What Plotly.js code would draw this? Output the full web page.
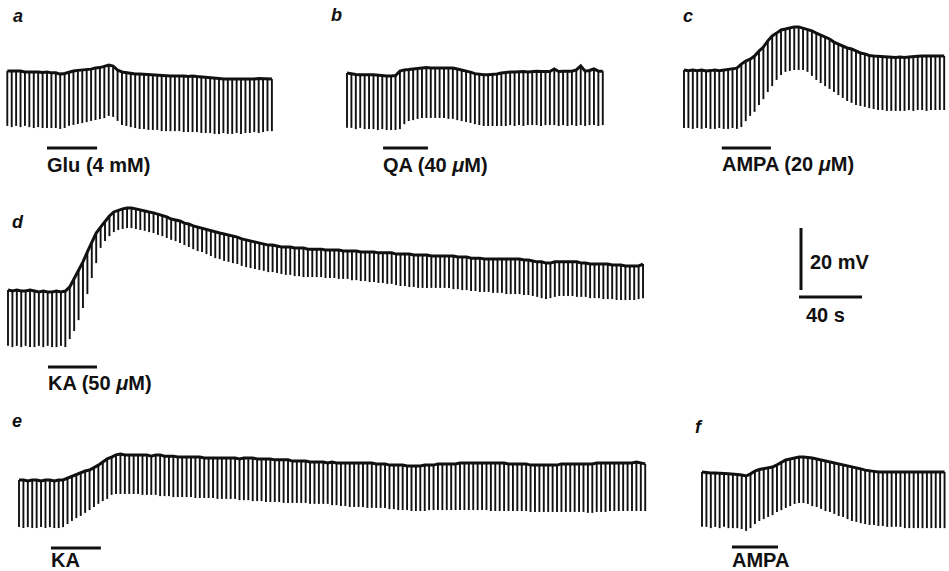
<!DOCTYPE html>
<html><head><meta charset="utf-8">
<script src="https://cdn.plot.ly/plotly-3.0.1.min.js"></script>
<style>html,body{margin:0;padding:0;background:#fff}</style>
</head><body><div id="chart" style="width:949px;height:571px"></div>
<script>
// ---------- data (mV relative to resting level; one value per hyperpolarizing pulse) ----------
const pulseInterval = 2.8; // s between current pulses
const panelNames = ['a','b','c','d','e','f'];
const drugLabels = ['Glu (4 mM)', 'QA (40 <i>μ</i>M)', 'AMPA (20 <i>μ</i>M)', 'KA (50 <i>μ</i>M)', 'KA', 'AMPA'];
const drugOn  = [25.2, 22.9, 24.0, 25.4, 20.3, 19.0];   // s
const drugOff = [57.0, 51.4, 55.2, 56.5, 52.0, 48.3];   // s
const scaleBarMV = 20, scaleBarS = 40;
const scaleLabels = ['20 mV', '40 s'];

const aTop = [0,0,-0.2,0,-0.3,-0.2,-0.3,-0.3,-0.5,-0.3,-0.6,-0.6,-1.0,-0.8,-0.3,0,0.2,0.3,0.5,0.6,1.0,1.1,1.5,1.9,1.6,0.3,-0.3,-0.6,-0.8,-1.0,-1.0,-1.1,-1.3,-1.3,-1.5,-1.6,-1.5,-1.6,-1.6,-1.5,-1.6,-1.8,-1.6,-1.8,-1.9,-1.9,-2.1,-2.3,-2.4,-2.6,-2.6,-2.6,-2.6,-2.6,-2.7,-2.6,-2.6,-2.4,-2.4,-2.6,-2.6];
const aTip = [-17.7,-18.1,-17.7,-18.1,-17.7,-18.1,-18.4,-18.1,-18.4,-18.4,-18.4,-18.4,-18.7,-18.4,-17.7,-17.4,-17.1,-16.8,-16.5,-16.1,-15.8,-15.5,-15.2,-14.5,-14.8,-16.1,-17.4,-17.7,-18.1,-18.4,-18.7,-18.7,-19.0,-19.0,-19.0,-19.4,-19.4,-19.4,-19.4,-19.4,-19.7,-19.7,-19.7,-19.7,-20.0,-20.0,-20.0,-20.3,-20.3,-20.0,-20.3,-20.3,-20.0,-20.3,-20.0,-20.0,-19.7,-20.0,-19.7,-19.4,-19.4];

const bTop = [0,-0.3,-0.5,-0.6,-0.5,-0.6,-0.6,-0.8,-0.8,-1.0,-1.0,-0.8,0.6,1.0,1.1,1.3,1.6,1.6,1.8,1.6,1.6,1.5,1.6,1.5,1.6,1.3,1.0,0.6,0.3,-0.2,-0.5,-0.6,-0.6,-0.5,-0.3,0,0.2,0.3,0.3,0.5,0.5,0.3,0.5,0.6,0.5,0.6,0.5,1.3,0.5,0.6,0.5,0.6,1.0,2.3,0.6,0.8,1.3,0.6,0.6];
const bTip = [-17.7,-17.7,-18.1,-17.7,-18.1,-18.1,-18.1,-18.4,-18.1,-18.4,-18.4,-18.4,-18.1,-16.5,-15.5,-15.2,-14.8,-14.5,-14.5,-14.5,-14.5,-14.5,-14.5,-14.8,-14.8,-15.2,-15.5,-15.8,-16.1,-16.5,-16.8,-17.1,-17.1,-17.1,-17.1,-17.1,-17.1,-16.8,-17.1,-16.8,-17.1,-16.8,-16.8,-16.8,-17.1,-16.8,-16.8,-16.8,-17.1,-16.8,-17.1,-16.8,-17.1,-16.8,-17.1,-16.8,-16.8,-17.1,-16.8];

const cTop = [0,-0.2,0,-0.2,0,-0.3,-0.2,0,-0.2,0,0,0.2,0.6,1.9,2.9,3.5,4.5,6.1,7.4,9.4,11.0,11.9,12.9,13.2,13.5,13.9,13.9,13.5,13.2,12.6,11.9,11.3,10.6,10.0,9.0,8.4,7.7,7.1,6.8,6.1,5.5,5.2,4.7,4.5,4.4,4.2,4.2,4.2,4.0,4.2,4.0,4.2,4.4,4.4,4.5,4.5,4.4,4.5,4.5,4.5];
const cTip = [-18.7,-18.7,-19.0,-18.7,-19.0,-18.7,-19.0,-19.0,-18.7,-19.0,-19.0,-18.7,-19.0,-18.4,-16.5,-14.8,-13.5,-11.3,-9.4,-7.1,-5.2,-3.2,-1.6,-0.6,-0.3,0,0,0,-0.6,-1.9,-3.2,-4.2,-5.2,-6.1,-7.1,-8.1,-9.0,-10.0,-10.6,-11.3,-11.6,-11.9,-12.3,-12.6,-12.9,-12.9,-13.2,-13.2,-13.2,-13.2,-13.2,-12.9,-13.2,-12.9,-12.9,-13.2,-12.9,-12.9,-12.9,-12.9];

const dTop = [0.3,0,0.3,0,0,0.3,0,-0.3,0,-0.3,-0.3,0,-0.3,0,
1.3,3.9,6.8,9.4,12.6,15.8,18.7,20.6,22.6,24.2,25.5,26.1,26.5,26.8,26.8,26.5,26.1,
25.8,25.5,25.2,24.8,24.2,23.9,23.2,22.9,22.6,21.9,21.6,21.0,20.6,20.3,19.7,19.4,19.0,18.7,18.4,18.1,17.7,17.4,16.8,16.5,16.1,15.8,15.5,15.2,14.8,14.8,
14.5,14.2,14.2,14.2,13.9,13.9,13.9,13.5,13.5,13.5,13.5,13.2,13.2,13.2,13.2,12.9,12.9,12.9,12.9,12.6,12.6,12.6,12.6,12.3,12.3,12.3,12.3,11.9,11.9,11.9,
11.9,11.6,11.6,11.6,11.6,11.3,11.3,11.3,11.3,11.3,11.3,11.0,11.0,11.0,10.6,10.6,10.6,10.3,10.3,10.3,10.3,10.3,10.3,10.3,10.3,10.3,10.0,10.0,9.7,9.4,
9.4,9.0,9.0,9.4,9.4,9.4,9.4,9.4,9.4,9.0,9.0,8.7,8.7,8.7,8.7,8.7,8.4,8.4,8.4,8.1,8.1,8.1,8.1,8.7];
const dTip = [-17.7,-18.1,-17.7,-18.1,-17.7,-18.1,-18.1,-17.7,-18.1,-17.7,-18.1,-18.1,-17.7,-18.1,
-15.5,-12.9,-9.4,-5.5,-1.0,4.2,9.0,13.9,16.1,17.7,19.0,19.7,20.0,20.3,20.3,20.0,19.7,
19.4,19.0,18.7,18.1,17.7,17.1,16.5,16.1,15.5,14.8,14.2,13.5,12.9,12.6,11.9,11.3,10.6,10.3,9.7,9.4,9.0,8.7,8.1,7.7,7.4,7.1,6.8,6.5,6.1,6.1,
5.8,5.5,5.2,5.2,4.8,4.8,4.5,4.5,4.5,4.5,4.5,4.2,4.2,4.2,3.9,3.9,3.9,3.5,3.5,3.2,3.2,2.9,2.9,2.6,2.6,2.3,2.3,1.9,1.6,1.6,
1.3,1.3,1.0,1.0,1.0,1.0,1.0,1.0,1.0,1.0,0.6,0.6,0.3,0.3,0,0,-0.3,-0.3,-0.3,-0.6,-0.6,-0.6,-1.0,-1.0,-1.0,-1.0,-1.3,-1.3,-1.6,-1.9,
-2.3,-2.6,-2.3,-1.9,-1.6,-1.6,-1.6,-1.6,-1.9,-1.9,-1.9,-2.3,-2.3,-2.3,-2.6,-2.6,-2.6,-2.9,-2.9,-2.9,-2.9,-2.9,-2.6,-2.3];

const eTop = [0,0,-0.3,0,0,-0.3,0,0,-0.3,0,0,
0.6,1.3,1.9,2.3,2.9,3.2,3.9,4.8,5.8,6.8,7.4,8.1,8.4,
8.1,8.1,8.1,8.1,8.1,8.1,7.7,8.1,8.1,7.7,7.7,7.7,7.4,7.4,7.4,7.4,7.4,7.4,7.1,7.1,7.1,7.1,7.1,7.1,7.1,7.1,6.8,
7.1,7.1,7.1,6.8,6.8,6.8,6.8,6.5,6.5,6.5,6.5,6.1,6.1,6.1,6.1,5.8,5.8,5.8,5.8,5.5,5.8,5.5,5.5,5.5,5.5,5.5,5.5,5.5,5.5,5.5,
5.2,5.2,5.2,4.8,4.8,4.8,4.8,4.5,4.5,4.5,4.5,4.8,4.8,4.8,5.2,5.2,5.2,5.2,5.2,5.5,5.5,5.5,5.5,5.5,5.5,5.5,5.5,5.5,5.5,5.5,
5.2,5.2,5.2,5.2,5.2,4.8,4.8,4.8,4.8,4.8,4.8,4.8,5.2,5.2,5.2,5.2,5.2,5.2,5.2,5.2,5.5,5.5,5.5,5.5,5.5,5.5,5.5,5.5,5.5,5.8,5.5,5.2];
const eTip = [-15.2,-15.5,-15.2,-15.5,-15.5,-15.2,-15.5,-15.2,-15.5,-15.5,-15.2,
-14.2,-13.2,-12.3,-11.6,-10.6,-9.7,-8.7,-7.7,-6.8,-6.1,-4.8,-4.5,-4.5,
-4.5,-4.5,-4.5,-4.5,-4.8,-4.8,-4.8,-4.8,-5.2,-5.2,-5.2,-5.5,-5.5,-5.5,-5.5,-5.5,-5.8,-5.8,-5.8,-5.8,-5.8,-6.1,-6.1,-6.1,-6.1,-6.1,-6.5,
-6.5,-6.5,-6.8,-6.8,-6.8,-7.1,-7.1,-7.1,-7.1,-7.4,-7.4,-7.4,-7.4,-7.4,-7.4,-7.7,-7.7,-7.7,-7.7,-7.7,-8.1,-8.1,-8.4,-8.4,-8.7,-8.7,-8.7,-8.7,-9.0,-9.0,
-9.0,-9.0,-9.0,-9.4,-9.4,-9.7,-9.7,-9.7,-10.0,-10.0,-10.0,-10.0,-9.7,-9.7,-9.7,-9.7,-9.7,-9.7,-9.7,-9.7,-9.7,-9.7,-9.7,-9.7,-9.7,-9.7,-10.0,-10.0,-10.0,-10.0,
-10.0,-10.0,-10.0,-10.0,-10.0,-10.3,-10.3,-10.3,-10.3,-10.3,-10.3,-10.3,-10.3,-10.3,-10.3,-10.3,-10.3,-10.3,-10.6,-10.6,-10.3,-10.3,-10.3,-10.0,-10.0,-10.0,-10.0,-10.0,-10.0,-10.0,-10.0,-10.0];

const fTop = [0,-0.2,-0.3,-0.3,-0.5,-0.5,-0.6,-0.6,-0.8,-1.0,-1.3,-0.6,0.3,0.8,1.0,1.3,1.6,2.3,3.2,3.9,4.2,4.5,4.8,4.8,4.7,4.5,4.2,3.9,3.5,3.2,2.9,2.6,2.3,1.9,1.6,1.3,1.0,0.6,0.3,0.2,0,0,0,0,0,0,0,0,0,0,0,0,0,0,0,0];
const fTip = [-17.7,-17.7,-18.1,-17.7,-18.1,-17.7,-18.1,-18.1,-18.1,-18.4,-19.0,-18.1,-16.8,-15.8,-15.2,-14.5,-13.9,-12.9,-12.3,-11.6,-11.0,-10.3,-10.0,-10.0,-10.3,-11.0,-11.3,-11.9,-12.6,-12.9,-13.5,-14.2,-14.5,-15.2,-15.8,-16.1,-16.5,-16.8,-17.1,-17.1,-17.4,-17.4,-17.7,-17.7,-17.7,-17.7,-18.1,-18.1,-18.1,-18.1,-18.1,-18.1,-18.1,-18.1,-18.1,-18.1];

const tops = [aTop, bTop, cTop, dTop, eTop, fTop];
const tips = [aTip, bTip, cTip, dTip, eTip, fTip];

// ---------- layout geometry (pixels) ----------
const W = 949, H = 571;
const PX_PER_S = 63 / 40, PX_PER_MV = 62 / 20;
const geom = [
  {x0:7.3, y0:71,  L:0,   R:325, T:0,   B:185, lx:12,  ly:16,  bar:148, text:165},
  {x0:347, y0:73,  L:325, R:660, T:0,   B:185, lx:330, ly:15,  bar:148, text:165},
  {x0:684, y0:70,  L:660, R:949, T:0,   B:185, lx:682, ly:16,  bar:148, text:164},
  {x0:8,   y0:291, L:0,   R:700, T:190, B:400, lx:11,  ly:222, bar:367, text:383},
  {x0:19,  y0:480, L:0,   R:680, T:400, B:571, lx:11,  ly:421, bar:548, text:559.5},
  {x0:702, y0:472, L:680, R:949, T:400, B:571, lx:694, ly:427, bar:547, text:559.5}
];
const INK = '#111111';
const FONT = 'Liberation Sans, Arial, Helvetica, sans-serif';

const data = [], shapes = [], annotations = [];
const layout = {
  width: W, height: H, autosize: false,
  margin: {l:0, r:0, t:0, b:0, pad:0},
  paper_bgcolor: '#ffffff', plot_bgcolor: 'rgba(0,0,0,0)',
  showlegend: false, hovermode: false
};
function axisPair(id, g) {
  layout['xaxis' + id] = {domain:[g.L / W, g.R / W], range:[(g.L - g.x0) / PX_PER_S, (g.R - g.x0) / PX_PER_S],
    visible:false, fixedrange:true, anchor:'y' + id};
  layout['yaxis' + id] = {domain:[1 - g.B / H, 1 - g.T / H], range:[(g.y0 - g.B) / PX_PER_MV, (g.y0 - g.T) / PX_PER_MV],
    visible:false, fixedrange:true, anchor:'x' + id};
}

tops.forEach((top, k) => {
  const tip = tips[k];
  const g = geom[k];
  const id = k === 0 ? '' : String(k + 1);
  axisPair(id, g);
  const n = Math.min(top.length, tip.length);
  const t = [], px = [], py = [];
  for (let i = 0; i < n; i++) {
    const ti = i * pulseInterval;
    t.push(ti);
    px.push(ti, ti, null);
    py.push(top[i], tip[i], null);
  }
  data.push({type:'scatter', mode:'lines', x:px, y:py, xaxis:'x' + id, yaxis:'y' + id,
    line:{color:INK, width:1.9}, hoverinfo:'skip'});
  data.push({type:'scatter', mode:'lines', x:t, y:top.slice(0, n), xaxis:'x' + id, yaxis:'y' + id,
    line:{color:INK, width:3.0}, hoverinfo:'skip'});
  const barY = (g.y0 - g.bar) / PX_PER_MV;
  shapes.push({type:'line', xref:'x' + id, yref:'y' + id, x0:drugOn[k], x1:drugOff[k], y0:barY, y1:barY,
    line:{color:INK, width:3.2}});
  annotations.push({xref:'x' + id, yref:'y' + id, x:drugOn[k], y:(g.y0 - g.text) / PX_PER_MV,
    xanchor:'left', yanchor:'middle', showarrow:false, borderpad:0, xshift:-1,
    text:'<b>' + drugLabels[k] + '</b>', font:{family:FONT, size:20, color:INK}});
  annotations.push({xref:'paper', yref:'paper', x:g.lx / W, y:1 - g.ly / H,
    xanchor:'left', yanchor:'middle', showarrow:false, borderpad:0,
    text:'<b><i>' + panelNames[k] + '</i></b>', font:{family:FONT, size:18, color:INK}});
});

// calibration bars
const sg = {x0:799, y0:297, L:760, R:949, T:200, B:340};
axisPair('7', sg);
const vx = (801 - sg.x0) / PX_PER_S, vy0 = (297 - 290) / PX_PER_MV;
data.push({type:'scatter', mode:'lines', x:[0, scaleBarS], y:[0, 0], xaxis:'x7', yaxis:'y7',
  line:{color:INK, width:3}, hoverinfo:'skip'});
data.push({type:'scatter', mode:'lines', x:[vx, vx], y:[vy0, vy0 + scaleBarMV], xaxis:'x7', yaxis:'y7',
  line:{color:INK, width:3}, hoverinfo:'skip'});
annotations.push({xref:'paper', yref:'paper', x:809 / W, y:1 - 262 / H, xanchor:'left', yanchor:'middle',
  showarrow:false, borderpad:0, text:'<b>' + scaleLabels[0] + '</b>', font:{family:FONT, size:20, color:INK}});
annotations.push({xref:'paper', yref:'paper', x:805 / W, y:1 - 315 / H, xanchor:'left', yanchor:'middle',
  showarrow:false, borderpad:0, text:'<b>' + scaleLabels[1] + '</b>', font:{family:FONT, size:20, color:INK}});

layout.shapes = shapes;
layout.annotations = annotations;
Plotly.newPlot('chart', data, layout, {staticPlot:true, displayModeBar:false});
</script>
</body></html>
